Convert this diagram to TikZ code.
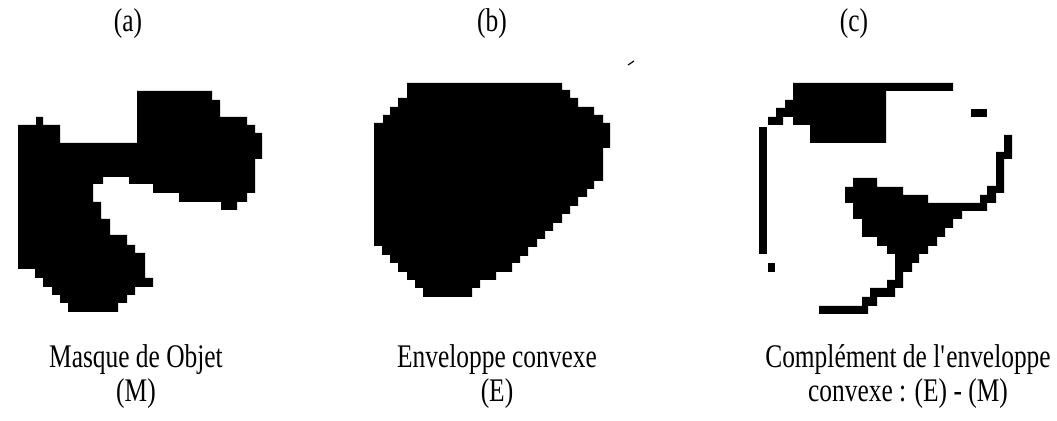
\documentclass[tikz,border=0pt]{standalone}
\usepackage{fontspec}
\setmainfont{Liberation Serif}[FakeStretch=0.77]
\newcommand\apos{\XeTeXglyph\XeTeXcharglyph"27\relax}
\begin{document}
\begin{tikzpicture}[x=0.5pt,y=-0.5pt,
  blob/.style={fill=black},
  lbl/.style={font=\fontsize{16.5}{17}\selectfont,align=center,inner sep=0pt}]
  \useasboundingbox (0,0) rectangle (1057,421);
  \foreach \n/\x/\t in {ta/128/(a), tb/492/(b), tc/854/(c)}
    \node[lbl] (\n) at (\x,24) {\t};
  \node[lbl] (la) at (136,377) {Masque de Objet\\(M)};
  \node[lbl] (lb) at (497,377) {Enveloppe convexe\\(E)};
  \node[lbl] (lc) at (908,377) {Complément de l\apos enveloppe\\convexe : (E) - (M)};
  % (a) masque
  \fill[blob] (18,125) -| (36,117) -| (43,125) -| (60,143) -| (137,91) -| (212,100)
    -| (220,117) -| (247,125) -| (255,133) -| (262,159) -| (255,193) -| (247,202)
    -| (237,210) -| (221,202) -| (179,193) -| (153,184) -| (129,177) -| (103,184)
    -| (93,202) -| (101,219) -| (110,235) -| (127,245) -| (135,253) -| (145,278)
    -| (153,287) -| (135,295) -| (127,303) -| (118,312) -| (68,303) -| (60,295)
    -| (52,287) -| (43,278) -| (35,269) -| (18,125) -- cycle;
  % (b) enveloppe
  \fill[blob] (407,83) -| (562,90) -| (570,98) -| (578,107) -| (594,115) -| (603,123)
    -| (610,148) -| (603,181) -| (594,189) -| (587,197) -| (578,206) -| (570,214)
    -| (562,223) -| (553,231) -| (545,239) -| (537,247) -| (528,256) -| (520,263)
    -| (512,272) -| (496,280) -| (480,288) -| (472,297) -| (423,288) -| (415,280)
    -| (407,272) -| (398,263) -| (390,255) -| (382,246) -| (374,123) -| (383,115)
    -| (390,107) -| (398,98) -| (407,83) -- cycle;
  \draw[line width=0.6pt] (628,65) -- (634,61);
  % (c) complement
  \fill[blob] (793,83) -| (953,91) -| (886,143) -| (810,125) -| (793,117) -| (783,125)
    -| (768,117) -| (776,108) -| (785,100) -| (793,83) -- cycle;
  \fill[blob] (853,178) -| (877,187) -| (903,195) -| (928,203) -| (980,195) -| (987,186)
    -| (996,152) -| (1004,135) -| (1012,159) -| (1004,193) -| (996,203) -| (987,211)
    -| (962,219) -| (953,228) -| (945,237) -| (937,246) -| (928,254) -| (919,263)
    -| (912,272) -| (903,288) -| (895,297) -| (877,306) -| (868,314) -| (819,306)
    -| (862,297) -| (870,288) -| (887,280) -| (895,254) -| (887,246) -| (877,237)
    -| (862,219) -| (853,203) -| (845,187) -| (853,178) -- cycle;
  \foreach \a/\b in {{(759,127)}/{(767,254)}, {(768,263)}/{(775,272)}, {(971,109)}/{(987,117)}}
    \fill[blob] \a rectangle \b;
\end{tikzpicture}
\end{document}
